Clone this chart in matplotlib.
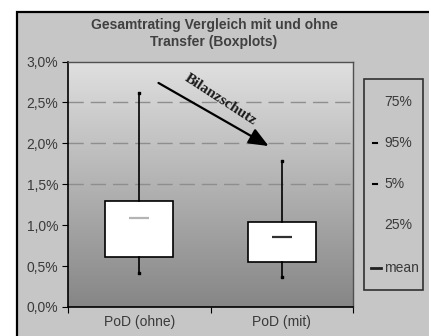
import numpy as np
import matplotlib
matplotlib.use("Agg")
import matplotlib.pyplot as plt
from matplotlib.patches import Rectangle
from matplotlib.lines import Line2D

plt.rcParams['font.family'] = ['Liberation Sans', 'DejaVu Sans']

# Daten (Werte in %)
kategorien = ['PoD (ohne)', 'PoD (mit)']
p5 = [0.41, 0.37]
p25 = [0.61, 0.55]
p75 = [1.30, 1.04]
p95 = [2.62, 1.78]
mittel = [1.09, 0.86]
mittel_farben = ['#b4b4b4', '#303030']

y_ticks = [0.0, 0.5, 1.0, 1.5, 2.0, 2.5, 3.0]
y_labels = ['0,0%', '0,5%', '1,0%', '1,5%', '2,0%', '2,5%', '3,0%']
gitter = [1.5, 2.0, 2.5]
legende = ['75%', '95%', '5%', '25%', 'mean']

W, H = 429, 336
fig = plt.figure(figsize=(W / 100, H / 100), dpi=100, facecolor='white')

# Diagrammfläche mit Rahmen
fig.patches.append(Rectangle((17 / W, -0.05), 1.1, (336 - 12) / H + 0.05,
                             transform=fig.transFigure, facecolor='#c6c6c6',
                             edgecolor='black', linewidth=1.6, zorder=-10))

ax = fig.add_axes([68 / W, (336 - 307) / H, (353 - 68) / W, (307 - 61.5) / H])
ax.set_zorder(1)
ax.set_xlim(-0.5, 1.5)
ax.set_ylim(0, 3.0)

# Farbverlauf im Hintergrund
verlauf = np.linspace(0, 1, 256).reshape(-1, 1)
ax.imshow(verlauf, extent=[-0.5, 1.5, 0, 3.0], aspect='auto', origin='lower',
          cmap=matplotlib.colors.LinearSegmentedColormap.from_list('g', ['#868686', '#e0e0e0']),
          zorder=0)

for g in gitter:
    ax.axhline(g, color='#8e8e8e', linewidth=1.0, dashes=(11, 5), zorder=1)

stats = []
for i in range(len(kategorien)):
    stats.append(dict(med=mittel[i], q1=p25[i], q3=p75[i], whislo=p5[i],
                      whishi=p95[i], mean=mittel[i], fliers=[]))
pos = np.arange(len(kategorien))
ax.bxp(stats, positions=pos, widths=0.48, patch_artist=True, showcaps=False,
       showfliers=False,
       boxprops=dict(facecolor='white', edgecolor='black', linewidth=1.2),
       whiskerprops=dict(color='black', linewidth=1.2),
       medianprops=dict(linewidth=0), manage_ticks=False)
ax.scatter(pos, p5, marker='s', s=4, color='black', zorder=4)
ax.scatter(pos, p95, marker='s', s=4, color='black', zorder=4)
for i in range(len(kategorien)):
    ax.plot([pos[i]], [mittel[i]], marker='_', markersize=15, markeredgewidth=1.6,
            color=mittel_farben[i], zorder=5)

# Achsen
ax.set_yticks(y_ticks)
ax.set_yticklabels(y_labels, fontsize=10, color='#3a3a3a')
ax.set_xticks([-0.5, 0.5, 1.5])
ax.set_xticklabels([])
ax.set_xticks(pos, minor=True)
ax.set_xticklabels(kategorien, minor=True, fontsize=10, color='#3a3a3a')
ax.tick_params(axis='x', which='minor', length=0, pad=6)
ax.tick_params(axis='x', which='major', length=4, direction='out', color='black')
ax.tick_params(axis='y', length=4, direction='out', color='black', pad=3)
for s in ['left', 'bottom']:
    ax.spines[s].set_color('black')
    ax.spines[s].set_linewidth(1.2)
for s in ['top', 'right']:
    ax.spines[s].set_color('#505050')
    ax.spines[s].set_linewidth(1.0)

# Pfeil "Bilanzschutz"
ax.annotate('', xy=(0.925, 1.95), xytext=(0.118, 2.755),
            arrowprops=dict(arrowstyle='-|>,head_length=1.2,head_width=0.5',
                            color='black', linewidth=1.6), zorder=6)
ax.text(0.57, 2.53, 'Bilanzschutz', rotation=-33, rotation_mode='anchor',
        ha='center', va='center', fontsize=11, fontweight='bold',
        family='Liberation Serif', color='#1a1a1a', zorder=6)

# Titel
fig.text(214 / W, 1 - 25 / H, 'Gesamtrating Vergleich mit und ohne',
         ha='center', va='center', fontsize=10, fontweight='bold', color='#404040')
fig.text(214 / W, 1 - 42 / H, 'Transfer (Boxplots)',
         ha='center', va='center', fontsize=10, fontweight='bold', color='#404040')

# Legende
fig.patches.append(Rectangle((364 / W, 1 - 290 / H), (423 - 364) / W, (290 - 79) / H,
                             transform=fig.transFigure, facecolor='none',
                             edgecolor='#303030', linewidth=1.2, zorder=2))
leg_y = [102, 143, 184, 225, 268]
for i, name in enumerate(legende):
    fig.text(384 / W, 1 - leg_y[i] / H, name, ha='left', va='center',
             fontsize=10, color='#3a3a3a')
for i in (1, 2):
    fig.lines.append(Line2D([373 / W, 377 / W], [1 - leg_y[i] / H] * 2,
                            transform=fig.transFigure, color='black', linewidth=1.5))
fig.lines.append(Line2D([371 / W, 381 / W], [1 - leg_y[4] / H] * 2,
                        transform=fig.transFigure, color='#202020', linewidth=2))

fig.savefig('out.png', dpi=100, facecolor='white')
